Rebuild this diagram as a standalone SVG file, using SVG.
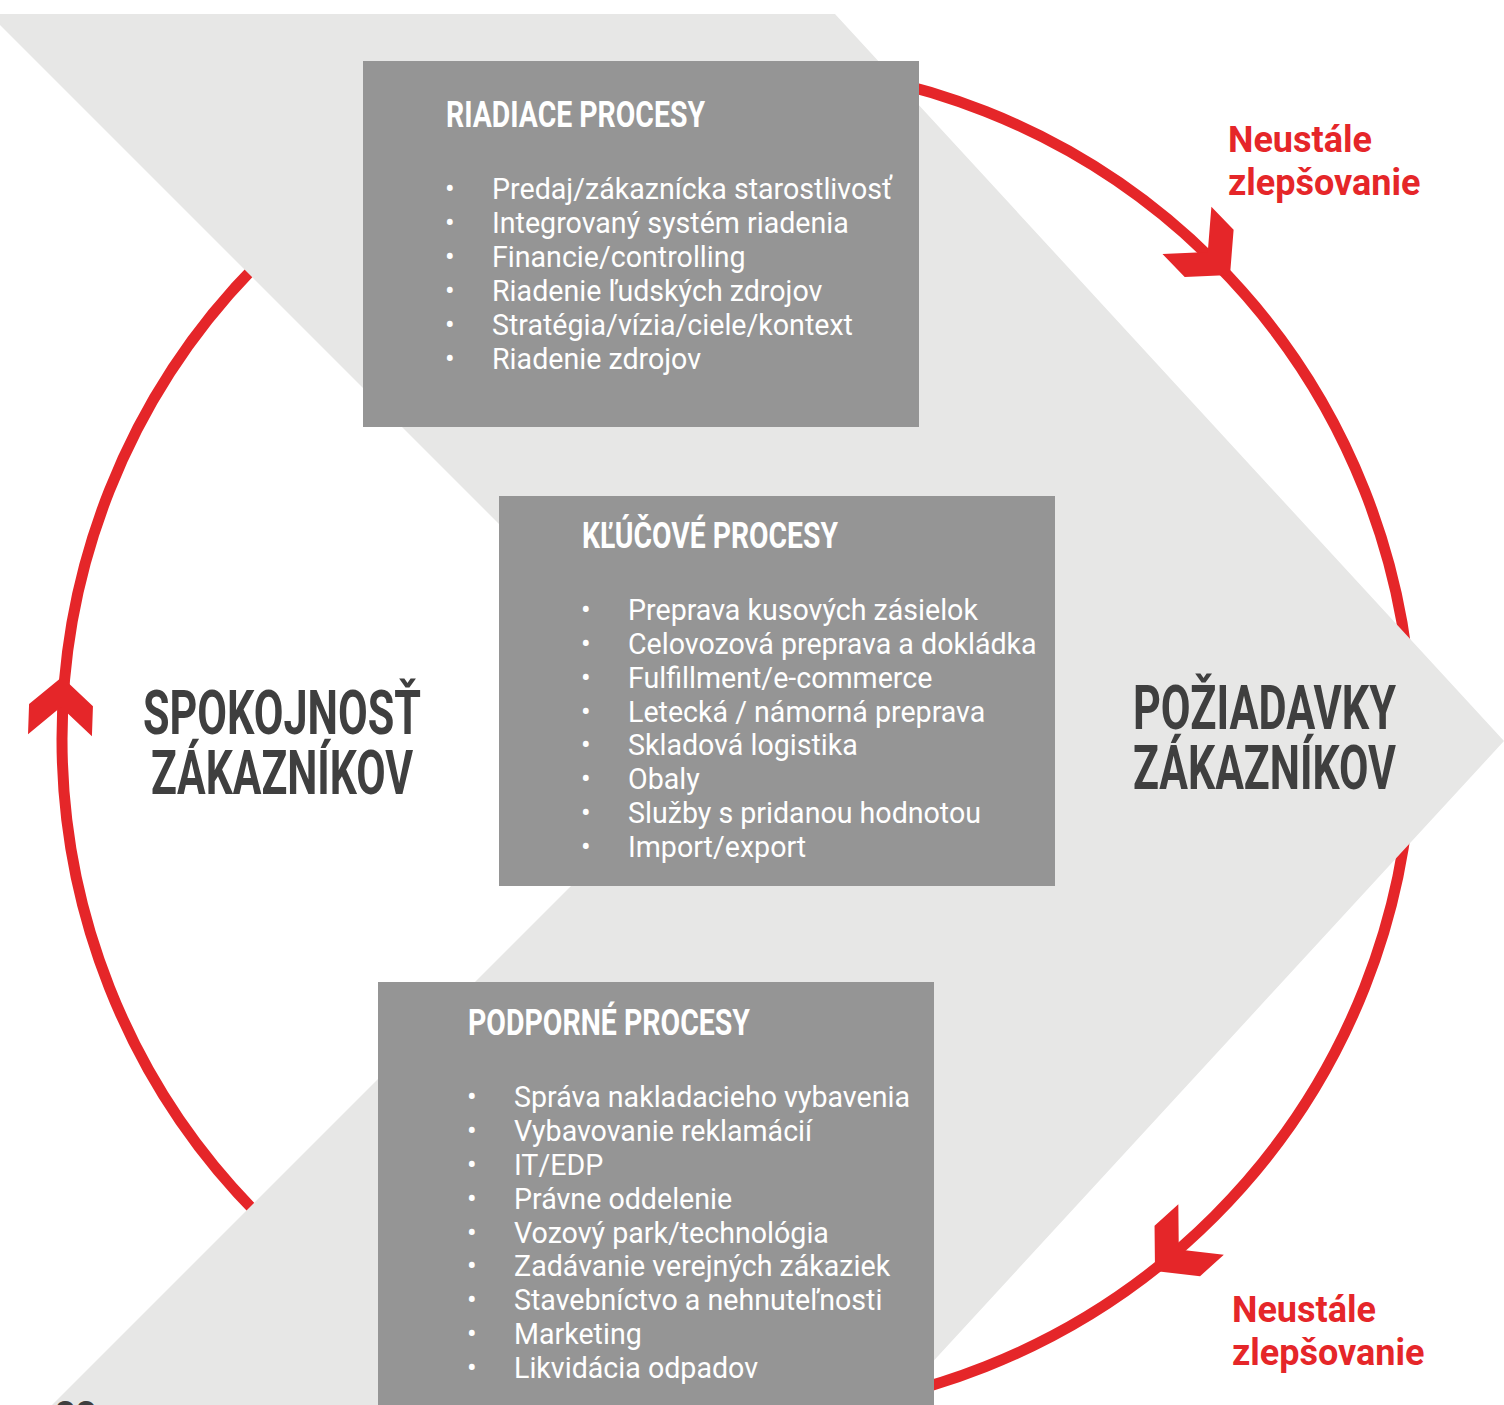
<svg xmlns="http://www.w3.org/2000/svg" width="1504" height="1405" viewBox="0 0 1504 1405">
  <defs>
    <style>
      .box { fill: #959595; }
      .head { font-family: Roboto, "Liberation Sans", sans-serif; font-weight: 700; fill: #ffffff; font-size: 37px; }
      .item { font-family: Roboto, "Liberation Sans", sans-serif; font-weight: 400; fill: #ffffff; font-size: 28.6px; }
      .big { font-family: Roboto, "Liberation Sans", sans-serif; font-weight: 700; fill: #3f3f3f; font-size: 62px; }
      .red { font-family: Roboto, "Liberation Sans", sans-serif; font-weight: 700; fill: #e52629; font-size: 36px; }
      .ring { fill: none; stroke: #e52629; stroke-width: 11; }
      .ahead { fill: #e52629; }
    </style>
    <path id="arrowhead" d="M0,0 L-30,-34 L-62,-34 L-32,0 L-62,34 L-30,34 Z"/>
  </defs>

  <rect width="1504" height="1405" fill="#ffffff"/>

  <g id="connectors">
    <circle class="ring" cx="737" cy="739" r="675"/>
    <use href="#arrowhead" class="ahead" transform="translate(1230,275) rotate(46)"/>
    <use href="#arrowhead" class="ahead" transform="translate(1155,1271) rotate(138)"/>
    <use href="#arrowhead" class="ahead" transform="translate(62,677) rotate(-88) scale(0.94)"/>
  </g>

  <g id="chevron">
    <polygon points="0,14 835,14 1504,741 893,1405 52,1405 716,741 0,25" fill="#e7e7e6"/>
  </g>

  <g id="riadiace">
    <rect class="box" x="363" y="61" width="556" height="366"/>
    <text class="head" x="446" y="127" textLength="259" lengthAdjust="spacingAndGlyphs">RIADIACE PROCESY</text>
    <g class="item">
      <text x="445" y="199">•</text><text x="492" y="199">Predaj/zákaznícka starostlivosť</text>
      <text x="445" y="233">•</text><text x="492" y="233">Integrovaný systém riadenia</text>
      <text x="445" y="267">•</text><text x="492" y="267">Financie/controlling</text>
      <text x="445" y="301">•</text><text x="492" y="301">Riadenie ľudských zdrojov</text>
      <text x="445" y="335">•</text><text x="492" y="335">Stratégia/vízia/ciele/kontext</text>
      <text x="445" y="369">•</text><text x="492" y="369">Riadenie zdrojov</text>
    </g>
  </g>

  <g id="klucove">
    <rect class="box" x="499" y="496" width="556" height="390"/>
    <text class="head" x="582" y="548" textLength="256" lengthAdjust="spacingAndGlyphs">KĽÚČOVÉ PROCESY</text>
    <g class="item">
      <text x="581" y="620">•</text><text x="628" y="620">Preprava kusových zásielok</text>
      <text x="581" y="654">•</text><text x="628" y="654">Celovozová preprava a dokládka</text>
      <text x="581" y="688">•</text><text x="628" y="688">Fulfillment/e-commerce</text>
      <text x="581" y="722">•</text><text x="628" y="722">Letecká / námorná preprava</text>
      <text x="581" y="755">•</text><text x="628" y="755">Skladová logistika</text>
      <text x="581" y="789">•</text><text x="628" y="789">Obaly</text>
      <text x="581" y="823">•</text><text x="628" y="823">Služby s pridanou hodnotou</text>
      <text x="581" y="857">•</text><text x="628" y="857">Import/export</text>
    </g>
  </g>

  <g id="podporne">
    <rect class="box" x="378" y="982" width="556" height="430"/>
    <text class="head" x="468" y="1035" textLength="282" lengthAdjust="spacingAndGlyphs">PODPORNÉ PROCESY</text>
    <g class="item">
      <text x="467" y="1107">•</text><text x="514" y="1107">Správa nakladacieho vybavenia</text>
      <text x="467" y="1141">•</text><text x="514" y="1141">Vybavovanie reklamácií</text>
      <text x="467" y="1175">•</text><text x="514" y="1175">IT/EDP</text>
      <text x="467" y="1209">•</text><text x="514" y="1209">Právne oddelenie</text>
      <text x="467" y="1243">•</text><text x="514" y="1243">Vozový park/technológia</text>
      <text x="467" y="1276">•</text><text x="514" y="1276">Zadávanie verejných zákaziek</text>
      <text x="467" y="1310">•</text><text x="514" y="1310">Stavebníctvo a nehnuteľnosti</text>
      <text x="467" y="1344">•</text><text x="514" y="1344">Marketing</text>
      <text x="467" y="1378">•</text><text x="514" y="1378">Likvidácia odpadov</text>
    </g>
  </g>

  <g id="spokojnost">
    <text class="big" x="143" y="734" textLength="278" lengthAdjust="spacingAndGlyphs">SPOKOJNOSŤ</text>
    <text class="big" x="151" y="794" textLength="262" lengthAdjust="spacingAndGlyphs">ZÁKAZNÍKOV</text>
  </g>

  <g id="poziadavky">
    <text class="big" x="1133" y="729" textLength="263" lengthAdjust="spacingAndGlyphs">POŽIADAVKY</text>
    <text class="big" x="1133" y="789" textLength="263" lengthAdjust="spacingAndGlyphs">ZÁKAZNÍKOV</text>
  </g>

  <g id="zlepsovanie-top">
    <text class="red" x="1228" y="152">Neustále</text>
    <text class="red" x="1228" y="195">zlepšovanie</text>
  </g>

  <g id="zlepsovanie-bottom">
    <text class="red" x="1232" y="1322">Neustále</text>
    <text class="red" x="1232" y="1365">zlepšovanie</text>
  </g>

  <g id="page-number">
    <text x="55" y="1427" font-family="Roboto, 'Liberation Sans', sans-serif" font-weight="700" font-size="36" fill="#3f3f3f">22</text>
  </g>
</svg>
